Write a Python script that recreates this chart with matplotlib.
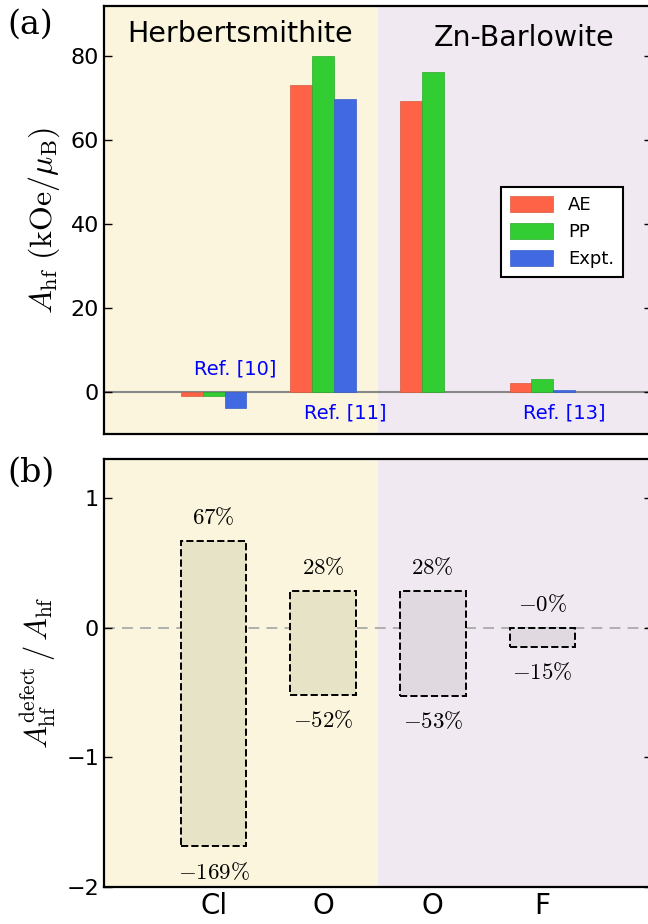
import numpy as np
import matplotlib
matplotlib.use("Agg")
from matplotlib import pyplot as plt

plt.rcParams['mathtext.fontset'] = 'cm'
plt.rcParams['font.family'] = ['DejaVu Sans']

# Data
sites = ['Cl', 'O', 'O', 'F']
ae = [-1.0, 73.1, 69.3, 2.1]
pp = [-0.9, 80.0, 76.2, 3.0]
expt = [-3.7, 69.9, np.nan, 0.4]
ref_labels = ['Ref. [10]', 'Ref. [11]', 'Ref. [13]']
ref_x = [0.2, 1.2, 3.2]
ref_y = [5.4, -5.0, -5.0]

ratio_top = [0.67, 0.28, 0.28, 0.0]
ratio_bot = [-1.69, -0.52, -0.53, -0.15]
top_text = ['67\\%', '28\\%', '28\\%', '-0\\%']
bot_text = ['-169\\%', '-52\\%', '-53\\%', '-15\\%']

x = np.arange(len(sites))
bg_h = '#faf5dc'
bg_z = '#f1e9f1'
bar_h = '#e7e3c7'
bar_z = '#e0d9e0'

fig = plt.figure(figsize=(6.48, 9.24), dpi=100)
ax1 = fig.add_axes([0.1605, 0.5303, 0.8457, 0.4632])
ax2 = fig.add_axes([0.1605, 0.0404, 0.8457, 0.4628])

for ax in (ax1, ax2):
    ax.axvspan(-1, 1.5, color=bg_h, lw=0, zorder=0)
    ax.axvspan(1.5, 4, color=bg_z, lw=0, zorder=0)
    ax.set_xlim(-1, 4)
    for s in ax.spines.values():
        s.set_linewidth(1.6)
    ax.tick_params(axis='y', direction='in', right=True, length=6,
                   labelsize=16, width=1)
    ax.tick_params(axis='x', length=0)

# Panel (a)
w = 0.2
ax1.axhline(0, color='#888888', lw=1.5, zorder=1)
ax1.bar(x - w, ae, w, color='tomato', edgecolor='#d85a40', lw=0.5, label='AE', zorder=2)
ax1.bar(x, pp, w, color='limegreen', edgecolor='#2aa82a', lw=0.5, label='PP', zorder=2)
ax1.bar(x + w, expt, w, color='royalblue', edgecolor='#3a5ec8', lw=0.5, label='Expt.', zorder=2)
ax1.set_ylim(-10, 92)
ax1.set_yticks([0, 20, 40, 60, 80])
ax1.set_xticks([])
ax1.set_ylabel(r'$A_{\rm hf}\ (\mathrm{kOe}/\mu_{\rm B})$', fontsize=23, labelpad=6)
ax1.text(0.245, 85.4, 'Herbertsmithite', fontsize=20.5, ha='center', va='center')
ax1.text(2.83, 84.3, 'Zn-Barlowite', fontsize=20.5, ha='center', va='center')
for lab, rx, ry in zip(ref_labels, ref_x, ref_y):
    ax1.text(rx, ry, lab, color='blue', fontsize=14, ha='center', va='center')
leg = ax1.legend(loc='upper left', bbox_to_anchor=(0.708, 0.598), fontsize=13,
                 fancybox=False, framealpha=1, edgecolor='k', handlelength=2.4,
                 handleheight=0.95, borderpad=0.5, labelspacing=0.5,
                 handletextpad=0.8)
leg.get_frame().set_linewidth(1.5)
fig.text(0.012, 0.973, '(a)', fontsize=24, family='serif', va='center')

# Panel (b)
ax2.axhline(0, color='#aaaaaa', lw=1.3, ls=(0, (6, 4)), zorder=1)
heights = np.array(ratio_top) - np.array(ratio_bot)
fills = [bar_h, bar_h, bar_z, bar_z]
ax2.bar(x, heights, 0.6, bottom=ratio_bot, color=fills, edgecolor='k',
        linestyle='--', lw=1.4, zorder=2)
for xi, t, b, tt, bt in zip(x, ratio_top, ratio_bot, top_text, bot_text):
    ax2.text(xi, t + 0.18, '$' + tt + '$', fontsize=16.5, ha='center', va='center')
    ax2.text(xi, b - 0.2, '$' + bt + '$', fontsize=16.5, ha='center', va='center')
ax2.set_ylim(-2, 1.3)
ax2.set_yticks([-2, -1, 0, 1])
ax2.set_yticklabels(['\u22122', '\u22121', '0', '1'])
ax2.set_xticks(x)
ax2.set_xticklabels(sites, fontsize=20)
ax2.tick_params(axis='x', pad=4)
ax2.set_ylabel(r'$A_{\rm hf}^{\rm defect}\,/\,A_{\rm hf}$', fontsize=22, labelpad=6)
fig.text(0.012, 0.488, '(b)', fontsize=24, family='serif', va='center')

fig.savefig('out.png', dpi=100)
